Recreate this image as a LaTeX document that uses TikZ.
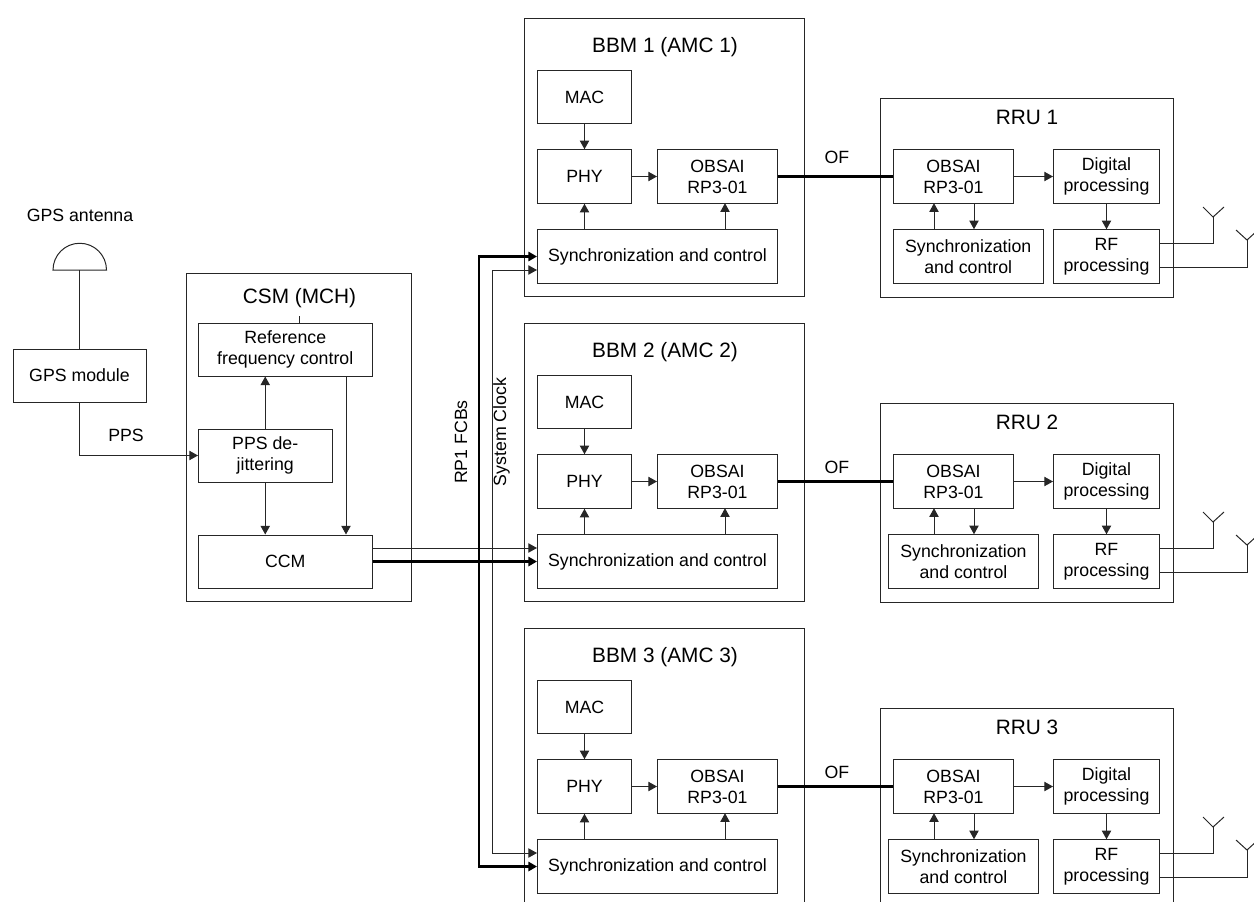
\documentclass[tikz,border=0pt]{standalone}
\usepackage{fontspec}
\setmainfont{Liberation Sans}
\usetikzlibrary{calc,positioning,arrows.meta}
\tikzset{
  blk/.style 2 args={draw=black!85, line width=0.75pt, align=center, inner sep=0pt,
    minimum width=#1*0.75pt, minimum height=#2*0.75pt,
    font=\fontsize{13.3}{15.75}\selectfont},
  ttl/.style={font=\fontsize{15.6}{18}\selectfont},
  txt/.style={font=\fontsize{13.3}{15.75}\selectfont},
  lnk/.style={draw=black!85, line width=0.75pt},
  arw/.style={lnk, -{Triangle[length=6.5pt,width=7pt]}},
  fat/.style={line width=1.55pt, draw=black}
}

\begin{document}
\begin{tikzpicture}[x=0.75pt, y=-0.75pt]
  \useasboundingbox (0,0) rectangle (1254,901);
  \clip (0,0) rectangle (1254,901);

  \node[txt] (gpsant) at (80,215) {GPS antenna};
  \node[blk={133}{53}] (gps) at (79.5,375.5) {GPS module};
  \draw[lnk] (53,270) arc (-180:0:26.75) -- cycle;
  \coordinate (dome) at (79.5,270);
  \draw[lnk] (dome) -- (gps.north);
  \node[txt] (pps) at (126,435) {PPS};

  \node[blk={225}{328}] (csm) at (299,437) {};
  \node[ttl] (csmttl) at (299.5,298) {CSM (MCH)};
  \node[blk={173.5}{53}] (ref) at (285.25,349.5) {Reference\\frequency control};
  \node[blk={133.5}{53}] (dej) at (265.25,455.5) {PPS de-\\jittering};
  \node[blk={173.5}{53}] (ccm) at (285.25,561.5) {CCM};
  \coordinate (tick) at (299.5,316);
  \coordinate (refout) at (346,376);
  \draw[lnk] (tick) -- (tick |- ref.north);
  \draw[arw] (dej.north) -- (dej.north |- ref.south);
  \draw[arw] (dej.south) -- (dej.south |- ccm.north);
  \draw[arw] (refout) -- (refout |- ccm.north);
  \draw[arw] (gps.south) |- (dej.west);

  \foreach \n/\yo/\syx/\ofy in {1/0/968.25/157, 2/305/963.5/162, 3/610/963.5/162} {
    \begin{scope}[shift={(0,\yo)}]
      \node[blk={280}{278.5}] (bbm\n) at (664.5,157.25) {};
      \node[ttl] (bbmttl\n) at (665,47) {BBM \n\ (AMC \n)};
      \node[blk={94}{53.5}] (mac\n) at (584.5,97) {MAC};
      \node[blk={94}{53.5}] (phy\n) at (584.5,176.5) {PHY};
      \node[blk={120}{53.5}] (bbo\n) at (717.5,176.5) {OBSAI\\RP3-01};
      \node[blk={240}{53.5}] (syn\n) at (657.5,256.5) {Synchronization and control};
      \coordinate (bbt\n) at (725,203.2);
      \draw[arw] (mac\n.south) -- (phy\n.north);
      \draw[arw] (phy\n.east) -- (bbo\n.west);
      \draw[arw] (syn\n.north -| phy\n.south) -- (phy\n.south);
      \draw[arw] (syn\n.north -| bbt\n) -- (bbt\n);

      \node[blk={293}{199}] (rru\n) at (1027,197.5) {};
      \node[ttl] (rruttl\n) at (1027,117.5) {RRU \n};
      \node[blk={120}{53.5}] (rro\n) at (953.5,176.5) {OBSAI\\RP3-01};
      \node[blk={106}{53.5}] (dig\n) at (1106.5,176.5) {Digital\\processing};
      \node[blk={149.5}{53.5}] (rsy\n) at (\syx,256.5) {Synchronization\\and control};
      \node[blk={106}{53.5}] (rf\n) at (1106.5,256.5) {RF\\processing};
      \coordinate (rup\n) at (934,203.2);
      \coordinate (rdn\n) at (974,203.2);
      \draw[arw] (rro\n.east) -- (dig\n.west);
      \draw[arw] (dig\n.south) -- (rf\n.north);
      \draw[arw] (rsy\n.north -| rup\n) -- (rup\n);
      \draw[arw] (rdn\n) -- (rsy\n.north -| rdn\n);
      \draw[fat] (bbo\n.east) -- (rro\n.west);
      \node[txt] (of\n) at (837,\ofy) {OF};

      \coordinate (ana\n) at (1213,217);
      \coordinate (anb\n) at (1247,240);
      \draw[lnk] ($(rf\n.east)+(0,-13.5)$) -| (ana\n);
      \draw[lnk] ($(rf\n.east)+(0,10.5)$) -| (anb\n);
      \draw[lnk] ($(ana\n)+(-10,-10)$) -- (ana\n) -- ($(ana\n)+(11,-10)$);
      \draw[lnk] ($(anb\n)+(-11,-10)$) -- (anb\n) -- ($(anb\n)+(11,-10)$);
    \end{scope}
  }

  % clock and frame buses
  \coordinate (clk) at (492,548);
  \coordinate (fcb) at (479,561.5);
  \draw[arw] ($(ccm.east)+(0,-13.5)$) -- ($(syn2.west)+(0,-13.5)$);
  \draw[arw] (clk) |- ($(syn1.west)+(0,13.5)$);
  \draw[arw] (clk) |- ($(syn3.west)+(0,-13.5)$);
  \draw[arw, fat] (ccm.east) -- (syn2.west);
  \draw[arw, fat] (fcb) |- (syn1.west);
  \draw[arw, fat] (fcb) |- (syn3.west);
  \node[txt, rotate=90] (fcbtxt) at (461,442) {RP1 FCBs};
  \node[txt, rotate=90] (clktxt) at (501.5,432) {System Clock};
\end{tikzpicture}
\end{document}
